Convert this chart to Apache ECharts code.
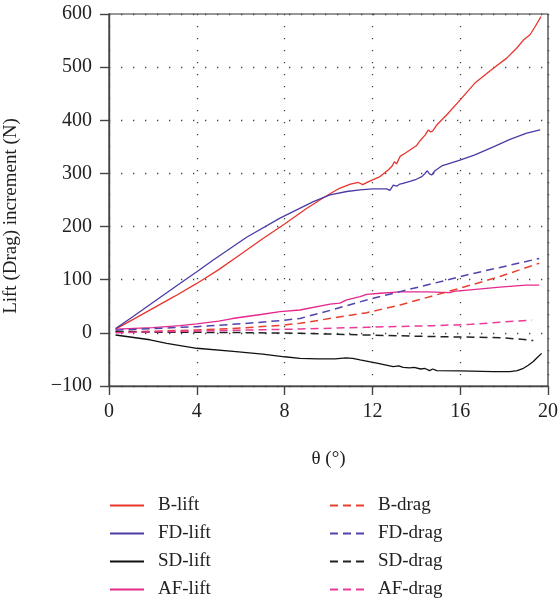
<!DOCTYPE html>
<html>
<head>
<meta charset="utf-8">
<script src="https://cdn.jsdelivr.net/npm/echarts@6/dist/echarts.min.js"></script>
<style>html,body{margin:0;padding:0;background:#fff;}#c{width:559px;height:606px;}</style>
</head>
<body>
<div id="c"></div>
<script>
// ---- data ----
var xTicks = [0, 4, 8, 12, 16, 20];
var yTicks = [-100, 0, 100, 200, 300, 400, 500, 600];

var bLiftTheta = [0.3, 1, 2, 3, 4, 5, 6, 7, 8, 9, 9.84, 10.5, 11, 11.36, 11.56, 11.8, 12.35, 12.73, 12.9, 13.0, 13.1, 13.26, 13.49, 13.71, 14.0, 14.2, 14.4, 14.55, 14.65, 14.75, 14.93, 15.38, 15.99, 16.67, 17.51, 18.12, 18.58, 18.88, 19.18, 19.41, 19.68];
var bLift = [7, 23, 46, 69, 93, 119, 148, 177, 205, 234, 256, 272, 280, 283, 279, 284, 294, 307, 314, 322, 318, 332, 338, 344, 352, 363, 372, 382, 378, 380, 391, 410, 438, 470, 498, 517, 536, 551, 561, 576, 595];

var fdLiftTheta = [0.3, 1, 2, 3.23, 4, 4.75, 6.27, 7.79, 9.31, 10.07, 10.83, 11.44, 12.0, 12.65, 12.8, 12.95, 13.1, 13.25, 13.4, 13.55, 13.71, 14.0, 14.25, 14.4, 14.5, 14.6, 14.7, 14.85, 15.16, 15.99, 16.67, 17.51, 18.27, 19.03, 19.64];
var fdLift = [8, 28, 57, 93, 115, 137, 180, 216, 247, 259.5, 266, 269, 271, 271, 268, 278, 276, 280, 281.5, 283, 285, 289, 294, 300, 305, 299, 297, 305, 314, 325, 335, 350, 364, 376, 382];

var sdLiftTheta = [0.3, 1.87, 2.63, 4, 5.66, 7, 8, 8.7, 9.5, 10.3, 10.8, 11.1, 11.44, 12.2, 12.95, 13.2, 13.4, 13.7, 13.9, 14.2, 14.4, 14.6, 14.75, 14.93, 16.0, 17.51, 18.27, 18.6, 18.88, 19.1, 19.33, 19.5, 19.71];
var sdLift = [-4, -13, -19.6, -29, -35, -40, -45, -48, -49, -49, -47, -48, -51, -57, -63.6, -62, -65, -66, -65, -68, -67, -71, -68, -71, -71.5, -73, -73, -71, -66.7, -61, -54, -47, -38.6];

var afLiftTheta = [0.3, 2, 3.23, 4, 5, 5.5, 5.7, 7, 7.79, 8.7, 10.07, 10.52, 10.83, 11.44, 11.74, 12.35, 13.26, 14.5, 15.54, 15.7, 16.7, 17.81, 19.0, 19.6];
var afLift = [7, 10, 13.6, 17, 22, 26, 27.5, 35, 40, 43, 54, 56, 62, 68, 72.6, 74.5, 77, 77, 75.7, 78, 82, 86, 90, 90];

var bDragTheta = [0.3, 2, 4, 6, 7.79, 8.7, 10.22, 11.74, 13.26, 14.78, 15.99, 17.81, 19.6];
var bDrag = [2, 3, 5.5, 9, 14, 18, 28, 38, 52.5, 70, 84, 106, 131];

var fdDragTheta = [0.3, 2, 4, 6, 7.79, 8.7, 10.22, 11.74, 13.26, 14.78, 16.3, 17.81, 19.6];
var fdDrag = [5, 8, 11.7, 17, 23, 27, 44, 62, 77.6, 93, 109, 123, 140];

var sdDragTheta = [0.3, 2, 4, 6, 8.7, 11.74, 14.78, 17.81, 18.8, 19.33];
var sdDrag = [2, 1, 1, 0.5, -0.8, -4, -7, -9, -12, -14.6];

var afDragTheta = [0.3, 2, 4, 6, 8.7, 11.74, 14.78, 16.5, 17.81, 19.26];
var afDrag = [0, 2, 3.5, 5, 7.3, 10.5, 13.6, 16, 20, 24];

var names = ['B-lift', 'FD-lift', 'SD-lift', 'AF-lift', 'B-drag', 'FD-drag', 'SD-drag', 'AF-drag'];

// ---- build ----
function pairs(t, v) { return t.map(function (x, i) { return [x, v[i]]; }); }
var FONT = '"Liberation Serif", "DejaVu Serif", serif';
var colors = ['#e8352e', '#4a3ca6', '#111111', '#e5288e', '#e8412f', '#4f44ad', '#222222', '#ec3a9a'];
var datasets = [
  pairs(bLiftTheta, bLift), pairs(fdLiftTheta, fdLift), pairs(sdLiftTheta, sdLift), pairs(afLiftTheta, afLift),
  pairs(bDragTheta, bDrag), pairs(fdDragTheta, fdDrag), pairs(sdDragTheta, sdDrag), pairs(afDragTheta, afDrag)
];
var series = datasets.map(function (d, i) {
  return {
    name: names[i], type: 'line', data: d, symbol: 'none', showSymbol: false, smooth: false,
    lineStyle: { color: colors[i], width: i >= 4 ? 1.5 : 1.3, type: i >= 4 ? [8, 5] : 'solid' },
    itemStyle: { color: colors[i] }, z: 3
  };
});

var chart = echarts.init(document.getElementById('c'), null, { renderer: 'canvas' });
var legendCommon = {
  orient: 'vertical', top: 496, padding: 0, itemWidth: 34, itemHeight: 14, itemGap: 9,
  itemStyle: { opacity: 0 },
  textStyle: { fontFamily: FONT, fontSize: 19, color: '#222', lineHeight: 19, padding: [0, 0, 0, 9] },
  selectedMode: false
};
chart.setOption({
  animation: false,
  backgroundColor: '#fff',
  grid: { left: 109, top: 14, width: 439, height: 372, outerBoundsMode: 'none', containLabel: false,
    show: true, borderColor: '#333', borderWidth: 1.2, backgroundColor: 'transparent' },
  legend: [
    Object.assign({}, legendCommon, { left: 109, data: names.slice(0, 4) }),
    Object.assign({}, legendCommon, { left: 329, data: names.slice(4) })
  ],
  xAxis: {
    type: 'value', min: 0, max: 20, interval: 4,
    name: 'θ (°)', nameLocation: 'middle', nameGap: 64,
    nameTextStyle: { fontFamily: FONT, fontSize: 19, color: '#222' },
    axisLine: { onZero: false, lineStyle: { color: '#444', width: 1.4 } },
    axisTick: { show: true, length: 9, inside: false, lineStyle: { color: '#444', width: 1.4 } },
    axisLabel: { margin: 16, fontFamily: FONT, fontSize: 20, color: '#222' },
    splitLine: { show: true, lineStyle: { color: '#444', width: 1.3, type: [1.3, 10.7] } }
  },
  yAxis: {
    type: 'value', min: -100, max: 600, interval: 100,
    name: 'Lift (Drag) increment (N)', nameLocation: 'middle', nameGap: 88,
    nameTextStyle: { fontFamily: FONT, fontSize: 19, color: '#222', padding: [0, 32, 0, 0] },
    axisLine: { show: true, onZero: false, lineStyle: { color: '#444', width: 1.4 } },
    axisTick: { show: true, length: 9, inside: false, lineStyle: { color: '#444', width: 1.4 } },
    axisLabel: { margin: 17, fontFamily: FONT, fontSize: 20, color: '#222',
      formatter: function (v) { return String(v).replace('-', '\u2212'); } },
    splitLine: { show: true, lineStyle: { color: '#444', width: 1.3, type: [1.3, 10.7] } }
  },
  series: series
});
</script>
</body>
</html>
